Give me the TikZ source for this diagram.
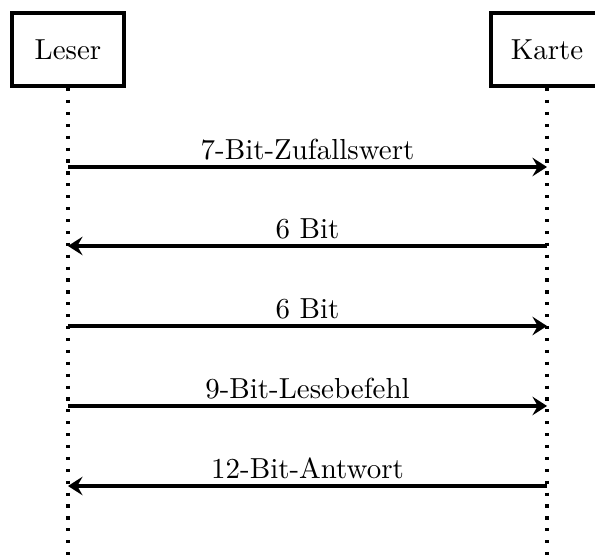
\documentclass[tikz,border=0pt]{standalone}
\usepackage{amssymb,amsmath}
\usepackage{tikz}
\usetikzlibrary{arrows.meta,positioning}

\begin{document}
\begin{tikzpicture}[font=\fontsize{10.95}{13.6}\selectfont]
\useasboundingbox (0,0) rectangle (7.91,-7.365);
\node[draw,ultra thick,minimum width=1.48cm,minimum height=0.97cm] (leser) at (0.904,-0.658) {Leser};
\node[draw,ultra thick,minimum width=1.48cm,minimum height=0.97cm] (karte) at (7.272,-0.658) {Karte};
\coordinate (leserend) at (0.904,-7.5);
\coordinate (karteend) at (7.272,-7.5);
\coordinate (l1) at (0.904,-2.220);
\coordinate (k1) at (7.272,-2.220);
\coordinate (l2) at (0.904,-3.270);
\coordinate (k2) at (7.272,-3.270);
\coordinate (l3) at (0.904,-4.334);
\coordinate (k3) at (7.272,-4.334);
\coordinate (l4) at (0.904,-5.397);
\coordinate (k4) at (7.272,-5.397);
\coordinate (l5) at (0.904,-6.461);
\coordinate (k5) at (7.272,-6.461);
% lifelines
\path[line width=1.2pt,dash pattern=on 1.2pt off 3.3pt]
(leser.south) edge (leserend)
(karte.south) edge (karteend);
% messages
\path[-{Stealth[length=5.5pt,width=7pt,inset=2pt]},very thick]
(l1) edge node [above,inner sep=2pt] {7-Bit-Zufallswert} (k1)
(k2) edge node [above,inner sep=2pt] {6 Bit} (l2)
(l3) edge node [above,inner sep=2pt] {6 Bit} (k3)
(l4) edge node [above,inner sep=2pt] {9-Bit-Lesebefehl} (k4)
(k5) edge node [above,inner sep=2pt] {12-Bit-Antwort} (l5);
\end{tikzpicture}
\end{document}
